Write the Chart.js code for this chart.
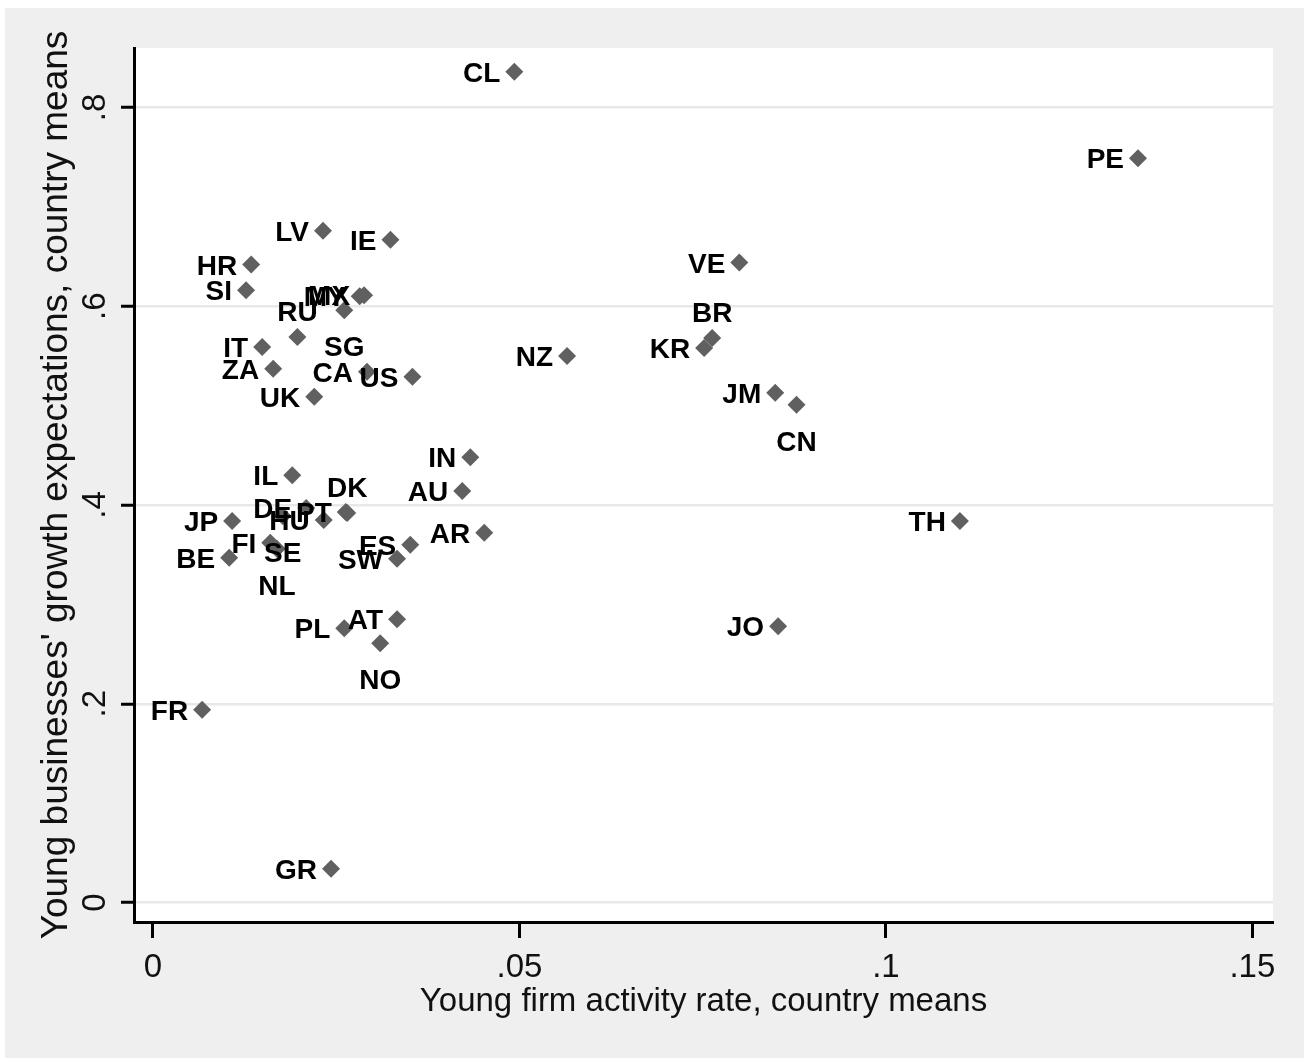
<!DOCTYPE html>
<html>
<head>
<meta charset="utf-8">
<script src="https://cdn.jsdelivr.net/npm/chart.js@4.4.0/dist/chart.umd.min.js"></script>
<style>
html, body { margin: 0; padding: 0; background: #fff; }
#wrap { width: 1304px; height: 1062px; }
</style>
</head>
<body>
<div id="wrap"><canvas id="scatterChart" width="1304" height="1062"></canvas></div>
<script>
// country codes and the two country means
const countries = ['CL','PE','LV','IE','HR','SI','MY','MX','SG','RU','IT','ZA','CA','US','UK','NZ',
  'VE','BR','KR','JM','CN','IN','IL','AU','DK','PT','DE','HU','SE','JP','FI','NL','BE','ES','SW',
  'AR','TH','AT','PL','NO','JO','FR','GR']
const activityRate = [0.0493,0.1344,0.0232,0.0324,0.0134,0.0127,0.0282,0.0288,0.0261,0.0197,0.0149,0.0164,0.0292,0.0354,0.0220,0.0565,
  0.0800,0.0763,0.0752,0.0849,0.0878,0.0433,0.0190,0.0422,0.0265,0.0263,0.0209,0.0233,0.0177,0.0108,0.0160,0.0169,0.0104,0.0351,0.0333,
  0.0452,0.1101,0.0333,0.0261,0.0310,0.0853,0.0067,0.0243]
const growthExp = [0.836,0.749,0.676,0.667,0.642,0.616,0.610,0.611,0.596,0.569,0.559,0.537,0.534,0.529,0.509,0.550,
  0.644,0.568,0.558,0.513,0.501,0.448,0.430,0.414,0.392,0.393,0.397,0.385,0.389,0.384,0.362,0.356,0.347,0.360,0.346,
  0.372,0.384,0.285,0.276,0.261,0.278,0.194,0.034]
const xTicks = [0, 0.05, 0.1, 0.15]
const yTicks = [0, 0.2, 0.4, 0.6, 0.8]
const xTitle = 'Young firm activity rate, country means'
const yTitle = "Young businesses' growth expectations, country means"

// labels that sit above / below their marker instead of on the left
const labelAbove = ['RU','BR','DK']
const labelBelow = ['SG','CN','SE','NL','NO']

const axisFont = "'Liberation Sans Narrow', 'Liberation Sans', sans-serif"

let fmt = function(v) {
	if (v === 0) return '0'
	return String(v).replace(/^0/, '')
}

let points = activityRate.map((x, i) => ({x: x, y: growthExp[i]}))

const bgPlugin = {
	id: 'bg',
	beforeDraw(chart) {
		let c = chart.ctx
		let a = chart.chartArea
		c.save()
		c.fillStyle = '#ffffff'
		c.fillRect(0, 0, chart.width, chart.height)
		c.fillStyle = '#efefef'
		c.fillRect(5, 8, chart.width - 5, chart.height - 12)
		c.fillStyle = '#ffffff'
		c.fillRect(a.left, a.top, a.right - a.left, a.bottom - a.top)
		c.restore()
	}
}

const yLabelPlugin = {
	id: 'ylabels',
	afterDraw(chart) {
		let c = chart.ctx
		let s = chart.scales.y
		c.save()
		c.fillStyle = '#111'
		c.font = '33px ' + axisFont
		c.textAlign = 'center'
		c.textBaseline = 'middle'
		s.ticks.forEach(t => {
			let py = s.getPixelForValue(t.value)
			c.save()
			c.translate(96, py)
			c.rotate(-Math.PI / 2)
			c.fillText(fmt(t.value), 0, 0)
			c.restore()
		})
		c.restore()
	}
}

const pointLabelPlugin = {
	id: 'plabels',
	afterDatasetsDraw(chart) {
		let c = chart.ctx
		let meta = chart.getDatasetMeta(0)
		c.save()
		c.fillStyle = '#000'
		c.font = 'bold 28px "Liberation Sans", Arial, sans-serif'
		c.textBaseline = 'alphabetic'
		meta.data.forEach((el, i) => {
			let code = countries[i]
			if (labelAbove.includes(code)) {
				c.textAlign = 'center'
				c.fillText(code, el.x, el.y - 16)
			} else if (labelBelow.includes(code)) {
				c.textAlign = 'center'
				c.fillText(code, el.x, el.y + 46)
			} else {
				c.textAlign = 'right'
				c.fillText(code, el.x - 14, el.y + 10)
			}
		})
		c.restore()
	}
}

let ctx = document.getElementById('scatterChart').getContext('2d')

let scatterChart = new Chart(ctx, {
	type: 'scatter',
	data: {
		datasets: [{
			data: points,
			pointStyle: 'rectRot',
			pointRadius: 9,
			pointHoverRadius: 9,
			pointBorderWidth: 0,
			backgroundColor: '#606060',
			borderColor: '#606060'
		}]
	},
	options: {
		responsive: false,
		animation: false,
		devicePixelRatio: 1,
		events: [],
		layout: { padding: { left: 0, right: 31, top: 48, bottom: 0 } },
		plugins: { legend: { display: false }, tooltip: { enabled: false } },
		scales: {
			x: {
				type: 'linear',
				min: -0.002592,
				max: 0.15282,
				afterBuildTicks: s => { s.ticks = xTicks.map(v => ({value: v})) },
				afterFit: s => { s.height = 140 },
				ticks: {
					callback: v => fmt(v),
					color: '#111',
					padding: 10,
					font: { family: axisFont, size: 33 }
				},
				grid: {
					drawOnChartArea: false,
					drawTicks: true,
					tickLength: 16,
					tickWidth: 3,
					tickColor: '#000'
				},
				border: { display: true, color: '#000', width: 3 },
				title: {
					display: true,
					text: xTitle,
					color: '#111',
					font: { family: axisFont, size: 33 },
					padding: { top: 0, bottom: 40 }
				}
			},
			y: {
				type: 'linear',
				min: -0.01962,
				max: 0.85987,
				afterBuildTicks: s => { s.ticks = yTicks.map(v => ({value: v})) },
				afterFit: s => { s.width = 134 },
				ticks: { display: false },
				grid: {
					color: '#e8e8e8',
					lineWidth: 2.5,
					drawTicks: true,
					tickLength: 13,
					tickWidth: 3,
					tickColor: '#000'
				},
				border: { display: true, color: '#000', width: 3 },
				title: {
					display: true,
					text: yTitle,
					color: '#111',
					font: { family: axisFont, size: 37 },
					padding: { top: 35, bottom: 0 }
				}
			}
		}
	},
	plugins: [bgPlugin, yLabelPlugin, pointLabelPlugin]
})
</script>
</body>
</html>
